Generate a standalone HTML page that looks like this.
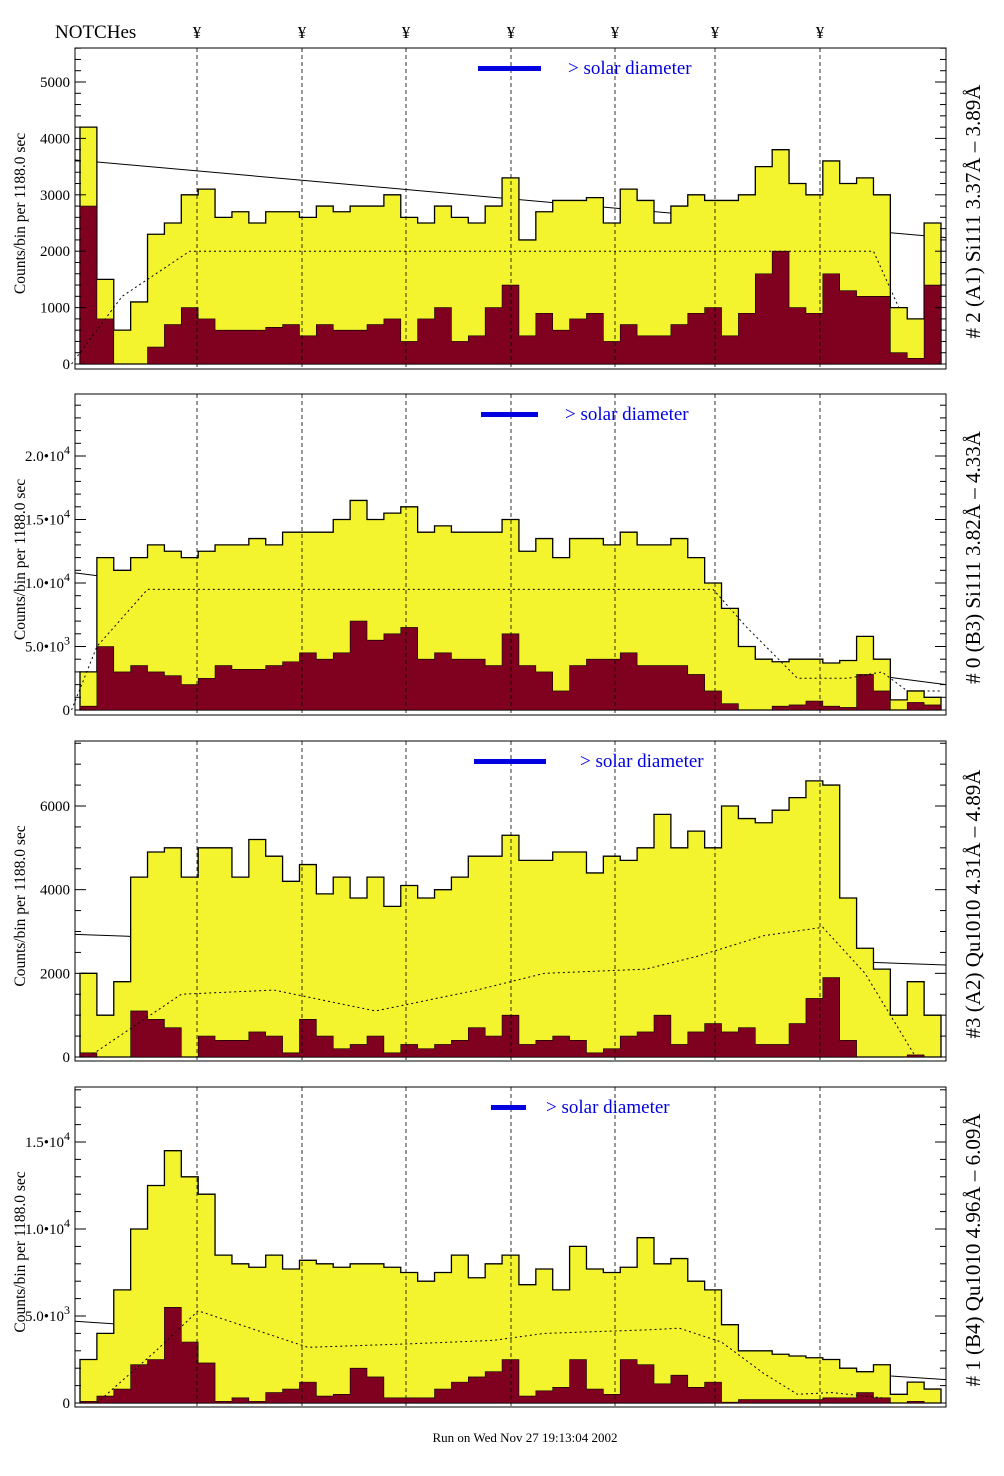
<!DOCTYPE html>
<html><head><meta charset="utf-8">
<style>
html,body{margin:0;padding:0;background:#fff;}
svg{display:block;font-family:"Liberation Serif",serif;}
</style></head>
<body>
<svg id="chart" width="1004" height="1476" viewBox="0 0 1004 1476" xmlns="http://www.w3.org/2000/svg">
<rect x="0" y="0" width="1004" height="1476" fill="#fff"/>
<text x="55" y="38" font-size="19">NOTCHes</text>
<g id="notchMarks"></g>
<g id="panels"></g>
<text x="525" y="1442" font-size="13" text-anchor="middle">Run on Wed Nov 27 19:13:04 2002</text>
</svg>
<script>
const notchIndex = [0,1,2,3,4,5,6];

// Panel 1 data
const p1Yellow = [4200,1500,600,1100,2300,2500,3000,3100,2600,2700,2500,2700,2700,2600,2800,2700,2800,2800,3000,2600,2500,2800,2600,2500,2800,3300,2200,2700,2900,2900,2950,2500,3100,2900,2500,2800,3000,2900,2900,3000,3500,3800,3200,3000,3600,3200,3300,3000,1000,800,2500];
const p1Red = [2800,800,0,0,300,700,1000,800,600,600,600,650,700,500,700,600,600,700,800,400,800,1000,400,500,1000,1400,500,900,600,800,900,400,700,500,500,700,900,1000,500,900,1600,2000,1000,900,1600,1300,1200,1200,200,100,1400];
const p1Fit = [3617,2240];
const p1ModelX = [-1,2,6,46.5,48];
const p1ModelY = [0,1200,2000,2000,1000];
const p1Ticks = [0,1000,2000,3000,4000,5000];
const p1TickLabels = ["0","1000","2000","3000","4000","5000"];

// Panel 2 data
const p2Yellow = [3000,12000,11000,12000,13000,12500,12000,12500,13000,13000,13500,13000,14000,14000,14000,15000,16500,15000,15500,16000,14000,14500,14000,14000,14000,15000,12500,13500,12000,13500,13500,13000,14000,13000,13000,13500,12000,10000,8000,5000,4000,3800,4000,4000,3700,3900,5800,4000,800,1500,1000];
const p2Red = [300,5000,3000,3500,3000,2700,2000,2500,3500,3200,3200,3500,3800,4500,4000,4500,7000,5500,6000,6500,4000,4500,4000,4000,3500,6000,3500,3000,1500,3500,4000,4000,4500,3500,3500,3500,2800,1500,500,0,0,300,400,700,300,200,2800,1500,0,600,400];
const p2Fit = [10800,2000];
const p2ModelX = [-1,0.5,3.5,37,39,42,45,47,48.5,50.5];
const p2ModelY = [0,5000,9500,9500,6500,2500,2500,3000,1500,1500];
const p2Ticks = [0,5000,10000,15000,20000];
const p2TickLabels = ["0","5.0•10|3","1.0•10|4","1.5•10|4","2.0•10|4"];

// Panel 3 data
const p3Yellow = [2000,1000,1800,4300,4900,5000,4300,5000,5000,4300,5200,4800,4200,4600,3900,4300,3800,4300,3600,4100,3800,4000,4300,4800,4800,5300,4700,4700,4900,4900,4400,4800,4700,5000,5800,5000,5400,5000,6000,5700,5600,5900,6200,6600,6500,3800,2600,2100,1000,1800,1000];
const p3Red = [100,0,0,1100,900,700,0,500,400,400,600,500,100,900,500,200,300,500,100,300,200,300,400,700,500,1000,300,400,500,400,100,200,500,600,1000,300,600,800,600,700,300,300,800,1400,1900,400,0,0,0,50,0];
const p3Fit = [2930,2200];
const p3ModelX = [0,5.5,11,17,23,27,33,36,40,43.5,46,49];
const p3ModelY = [0,1500,1600,1100,1600,2000,2100,2400,2900,3100,2000,0];
const p3Ticks = [0,2000,4000,6000];
const p3TickLabels = ["0","2000","4000","6000"];

// Panel 4 data
const p4Yellow = [2500,4000,6500,10000,12500,14500,13000,12000,8500,8000,7800,8500,7700,8200,8000,7800,8000,8000,7800,7500,7000,7500,8500,7200,8000,8500,6800,7700,6500,9000,7700,7500,7800,9500,8000,8300,7000,6500,4500,3000,3000,2800,2700,2600,2500,2000,1800,2200,500,1200,800];
const p4Red = [100,400,800,2200,2500,5500,3500,2300,100,300,100,600,800,1200,400,500,2000,1500,300,300,300,800,1200,1500,1800,2500,400,700,900,2500,800,500,2500,2200,1100,1600,900,1200,50,200,200,200,200,200,300,300,600,300,0,100,0];
const p4Fit = [4700,1340];
const p4ModelX = [0.5,4,6.5,13,19,24,27,33,35,37.5,40,42,44,47];
const p4ModelY = [0,3000,5300,3200,3400,3600,4000,4200,4300,3500,1700,500,600,300];
const p4Ticks = [0,5000,10000,15000];
const p4TickLabels = ["0","5.0•10|3","1.0•10|4","1.5•10|4"];

const NS = "http://www.w3.org/2000/svg";
const NB = p1Yellow.length;
const FX0 = 75, FX1 = 946, BX0 = 80, BX1 = 941;
const notchPx = [197,302,406,511,615,715,820];
function xb(i){ return BX0 + i*(BX1-BX0)/NB; }
function xc(v){ return BX0 + (v+0.5)*(BX1-BX0)/NB; }
function mk(tag, attrs, parent){
  const e = document.createElementNS(NS, tag);
  for (const k in attrs) e.setAttribute(k, attrs[k]);
  parent.appendChild(e); return e;
}

const notchG = document.getElementById('notchMarks');
notchIndex.forEach(n=>{
  const t = mk('text', {x:notchPx[n], y:38, 'font-size':17, 'text-anchor':'middle'}, notchG);
  t.textContent = '¥';
  
  
});

const panels = [
  {top:48,bot:369,zero:364,ref:5000,refPx:82,yel:p1Yellow,red:p1Red,fit:p1Fit,mx:p1ModelX,my:p1ModelY,ticks:p1Ticks,labels:p1TickLabels,minor:200,
   title:"# 2 (A1) Si111  3.37Å – 3.89Å", leg:[478,541,568]},
  {top:394,bot:715,zero:710,ref:20000,refPx:456,yel:p2Yellow,red:p2Red,fit:p2Fit,mx:p2ModelX,my:p2ModelY,ticks:p2Ticks,labels:p2TickLabels,minor:1000,
   title:"# 0 (B3) Si111  3.82Å – 4.33Å", leg:[481,538,565]},
  {top:741,bot:1061,zero:1057,ref:6000,refPx:806,yel:p3Yellow,red:p3Red,fit:p3Fit,mx:p3ModelX,my:p3ModelY,ticks:p3Ticks,labels:p3TickLabels,minor:500,
   title:"#3 (A2) Qu1010  4.31Å – 4.89Å", leg:[474,546,580]},
  {top:1087,bot:1407,zero:1403,ref:15000,refPx:1142,yel:p4Yellow,red:p4Red,fit:p4Fit,mx:p4ModelX,my:p4ModelY,ticks:p4Ticks,labels:p4TickLabels,minor:1000,
   title:"# 1 (B4) Qu1010 4.96Å – 6.09Å", leg:[491,526,546]}
];
const host = document.getElementById('panels');

panels.forEach((P, pi)=>{
  const g = mk('g', {}, host);
  
  
  const k = (P.zero - P.refPx)/P.ref;
  const y = v => Math.max(P.top+1, P.zero - v*k);

  function histPath(arr){
    let d = 'M' + xb(0) + ' ' + P.zero;
    arr.forEach((v,i)=>{ d += ' L' + xb(i) + ' ' + y(v) + ' L' + xb(i+1) + ' ' + y(v); });
    d += ' L' + xb(arr.length) + ' ' + P.zero + ' Z';
    return d;
  }
  // fit line (behind histograms)
  const fl = mk('line', {x1:FX0, y1:y(P.fit[0]), x2:FX1, y2:y(P.fit[1]), stroke:'#000', 'stroke-width':1}, g);
  
  

  const yp = mk('path', {d:histPath(P.yel), fill:'#f3f32e', stroke:'#000', 'stroke-width':1.3}, g);
  
  
  const rp = mk('path', {d:histPath(P.red), fill:'#800020', stroke:'#000', 'stroke-width':0.6}, g);
  
  

  let md = '';
  P.mx.forEach((xv,i)=>{ md += (i?' L':'M') + xc(xv) + ' ' + y(P.my[i]); });
  const mp = mk('path', {d:md, fill:'none', stroke:'#000', 'stroke-width':1, 'stroke-dasharray':'2,3'}, g);
  
  

  notchIndex.forEach(n=>{
    const l = mk('line', {x1:notchPx[n], y1:P.top, x2:notchPx[n], y2:P.bot, stroke:'#000', 'stroke-width':0.8, 'stroke-dasharray':'4,3'}, g);
    
    
  });

  const fr = mk('rect', {x:FX0, y:P.top, width:FX1-FX0, height:P.bot-P.top, fill:'none', stroke:'#000', 'stroke-width':1}, g);
  
  

  const maxV = (P.zero - P.top)/k;
  for (let v=0; v<=maxV; v+=P.minor){
    const major = P.ticks.indexOf(v) >= 0;
    const len = major ? 11 : 6;
    const yy = P.zero - v*k;
    mk('line', {x1:FX0, y1:yy, x2:FX0+len, y2:yy, stroke:'#000', 'stroke-width':1}, g);
    mk('line', {x1:FX1, y1:yy, x2:FX1-len, y2:yy, stroke:'#000', 'stroke-width':1}, g);
  }
  P.ticks.forEach((v,i)=>{
    const t = mk('text', {x:70, y:P.zero - v*k + 5, 'font-size':15, 'text-anchor':'end'}, g);
    
    
    const parts = P.labels[i].split('|');
    t.textContent = parts[0];
    if (parts[1]) {
      const s = mk('tspan', {dy:-7, 'font-size':12}, t);
      s.textContent = parts[1];
    }
  });

  const cy = (P.top + P.bot)/2 + 5;
  const yt = mk('text', {x:0, y:0, 'font-size':15.5, 'text-anchor':'middle', transform:'translate(25,'+cy+') rotate(-90)'}, g);
  
  
  yt.textContent = 'Counts/bin per    1188.0 sec';

  const rt = mk('text', {x:0, y:0, 'font-size':21, 'text-anchor':'middle', transform:'translate(980,'+((P.top+P.bot)/2+3)+') rotate(-90)'}, g);
  
  
  rt.textContent = P.title;

  const lb = mk('rect', {x:P.leg[0], y:P.top+18, width:P.leg[1]-P.leg[0], height:5, fill:'#0000e0'}, g);
  
  
  const lt = mk('text', {x:P.leg[2], y:P.top+26, 'font-size':19, fill:'#0000e0'}, g);
  
  
  lt.textContent = '> solar diameter';
});
</script>
</body></html>
